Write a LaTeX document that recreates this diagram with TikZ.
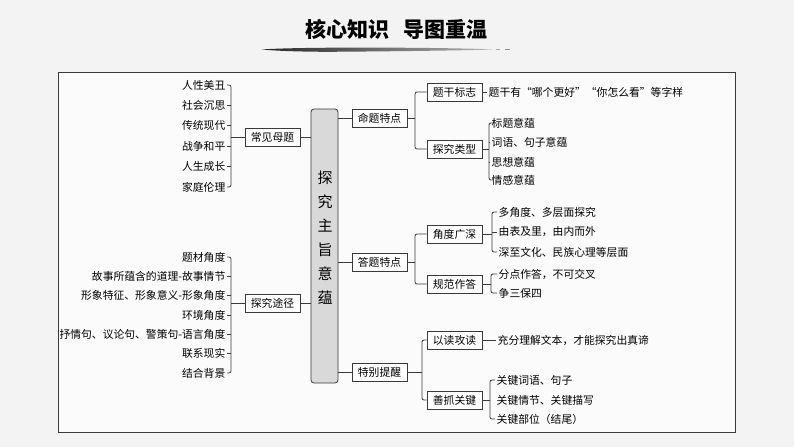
\documentclass[tikz,border=0pt]{standalone}
\usepackage{fontspec}
\setmainfont{Noto Sans CJK SC}
\newcommand\leafsize{\fontsize{10.8pt}{12pt}\selectfont}
\newcommand\titlesize{\fontsize{21pt}{24pt}\selectfont}
\newcommand\coresize{\fontsize{15pt}{24pt}\selectfont}
\definecolor{bgc}{HTML}{F3F3F3}
\definecolor{framefill}{HTML}{FBFBFB}
\definecolor{linec}{HTML}{3A3A3A}
\definecolor{corefill}{HTML}{D9D9D9}
\begin{document}
\begin{tikzpicture}[x=1pt,y=-1pt,
  box/.style={draw=linec, line width=0.8pt, minimum width=55pt, minimum height=18pt, inner sep=0pt, font=\leafsize, fill=white},
  leafl/.style={inner sep=1.5pt, font=\leafsize, anchor=east},
  leafr/.style={inner sep=1.5pt, font=\leafsize, anchor=west},
  conn/.style={draw=linec, line width=0.8pt},
  brk/.style={conn, rounded corners=2pt}]
\useasboundingbox (0,0) rectangle (794,447);
\fill[bgc] (0,0) rectangle (794,447);
% brush stroke
\shade[left color=black!85, right color=black!30]
  (262,49.5) .. controls (290,47.3) and (380,47.2) .. (445,48.2)
  .. controls (470,48.6) and (485,49) .. (492,49.5)
  .. controls (470,50.3) and (400,51.3) .. (330,51.8)
  .. controls (300,51.8) and (275,50.8) .. (262,49.5) -- cycle;
\fill[black!35] (496,49.3) rectangle (500,50);
\fill[black!45] (505,49.2) rectangle (510,50.2);
% title
\node[font=\titlesize\bfseries] (title) at (396.5,29) {核心知识\hspace{14pt}导图重温};
% frame
\draw[linec, line width=0.9pt, fill=framefill] (58,72) rectangle (735,432);
% core
\node[draw=linec, line width=0.8pt, fill=corefill, rounded corners=3pt, minimum width=27pt, minimum height=274pt, inner sep=0pt] (core) at (324.5,246) {};
\node[font=\coresize, align=center, inner sep=0pt] (coretext) at (325,238) {探\\究\\主\\旨\\意\\蕴};
% left boxes
\node[box] (cjmt) at (272.5,137) {常见母题};
\node[box] (tjtj) at (272.5,303) {探究途径};
% left leaves top
\node[leafl] (a1) at (227,85) {人性美丑};
\node[leafl] (a2) at (227,105.4) {社会沉思};
\node[leafl] (a3) at (227,125.8) {传统现代};
\node[leafl] (a4) at (227,146.2) {战争和平};
\node[leafl] (a5) at (227,166.6) {人生成长};
\node[leafl] (a6) at (227,187) {家庭伦理};
% left leaves bottom
\node[leafl] (b1) at (227,257) {题材角度};
\node[leafl] (b2) at (227,276.3) {故事所蕴含的道理-故事情节};
\node[leafl] (b3) at (227,295.7) {形象特征、形象意义-形象角度};
\node[leafl] (b4) at (227,315) {环境角度};
\node[leafl] (b5) at (227,334.3) {抒情句、议论句、警策句-语言角度};
\node[leafl] (b6) at (227,353.7) {联系现实};
\node[leafl] (b7) at (227,373) {结合背景};
\coordinate (bl) at (231,0);
\draw[brk] (a1.east) -- (a1.east -| bl) -- (a6.east -| bl) -- (a6.east);
\foreach \n in {a2,a3,a4,a5} \draw[conn] (\n.east) -- (\n.east -| bl);
\draw[conn] (bl |- cjmt.west) -- (cjmt.west);
\draw[brk] (b1.east) -- (b1.east -| bl) -- (b7.east -| bl) -- (b7.east);
\foreach \n in {b2,b3,b4,b5,b6} \draw[conn] (\n.east) -- (\n.east -| bl);
\draw[conn] (bl |- tjtj.west) -- (tjtj.west);
\draw[conn] (cjmt.east) -- (cjmt.east -| core.west);
\draw[conn] (tjtj.east) -- (tjtj.east -| core.west);
% right level 1
\node[box] (mttd) at (379.5,118) {命题特点};
\node[box] (dttd) at (379.5,262) {答题特点};
\node[box] (tbtx) at (379.5,372) {特别提醒};
\draw[conn] (core.east |- mttd.west) -- (mttd.west);
\draw[conn] (core.east |- dttd.west) -- (dttd.west);
\draw[conn] (core.east |- tbtx.west) -- (tbtx.west);
% right level 2
\node[box] (tgbz) at (454.5,92) {题干标志};
\node[box] (tjlx) at (454.5,149) {探究类型};
\node[box] (jdgs) at (454.5,234) {角度广深};
\node[box] (gfzd) at (454.5,284) {规范作答};
\node[box] (ydgd) at (454.5,340) {以读攻读};
\node[box] (szgj) at (454.5,400) {善抓关键};
\coordinate (br1) at (415,0);
\coordinate (br3) at (422,0);
\draw[conn] (mttd.east) -- (mttd.east -| br1);
\draw[brk] (tgbz.west) -- (tgbz.west -| br1) -- (tjlx.west -| br1) -- (tjlx.west);
\draw[conn] (dttd.east) -- (dttd.east -| br1);
\draw[brk] (jdgs.west) -- (jdgs.west -| br1) -- (gfzd.west -| br1) -- (gfzd.west);
\draw[conn] (tbtx.east) -- (tbtx.east -| br3);
\draw[brk] (ydgd.west) -- (ydgd.west -| br3) -- (szgj.west -| br3) -- (szgj.west);
% right leaves
\node[leafr] (c1) at (487,92) {题干有“哪个更好”“你怎么看”等字样};
\draw[conn] (tgbz.east) -- (c1.west);
\node[leafr] (d1) at (490,123) {标题意蕴};
\node[leafr] (d2) at (490,142) {词语、句子意蕴};
\node[leafr] (d3) at (490,162) {思想意蕴};
\node[leafr] (d4) at (490,180) {情感意蕴};
\coordinate (bd) at (489,0);
\draw[conn] (tjlx.east) -- (tjlx.east -| bd);
\draw[brk] (d1.west) -- (d1.west -| bd) -- (d4.west -| bd) -- (d4.west);
\foreach \n in {d2,d3} \draw[conn] (\n.west) -- (\n.west -| bd);
\node[leafr] (e1) at (497,212) {多角度、多层面探究};
\node[leafr] (e2) at (497,232) {由表及里，由内而外};
\node[leafr] (e3) at (497,252) {深至文化、民族心理等层面};
\coordinate (be) at (492,0);
\draw[conn] (jdgs.east) -- (jdgs.east -| be);
\draw[brk] (e1.west) -- (e1.west -| be) -- (e3.west -| be) -- (e3.west);
\draw[conn] (e2.west) -- (e2.west -| be);
\node[leafr] (f1) at (497,274) {分点作答，不可交叉};
\node[leafr] (f2) at (497,293) {争三保四};
\coordinate (bf) at (491,0);
\draw[conn] (gfzd.east) -- (gfzd.east -| bf);
\draw[brk] (f1.west) -- (f1.west -| bf) -- (f2.west -| bf) -- (f2.west);
\node[leafr] (g1) at (496,340) {充分理解文本，才能探究出真谛};
\draw[conn] (ydgd.east) -- (g1.west);
\node[leafr] (h1) at (495,380) {关键词语、句子};
\node[leafr] (h2) at (495,400) {关键情节、关键描写};
\node[leafr] (h3) at (495,419) {关键部位（结尾）};
\coordinate (bh) at (490,0);
\draw[conn] (szgj.east) -- (szgj.east -| bh);
\draw[brk] (h1.west) -- (h1.west -| bh) -- (h3.west -| bh) -- (h3.west);
\end{tikzpicture}
\end{document}
